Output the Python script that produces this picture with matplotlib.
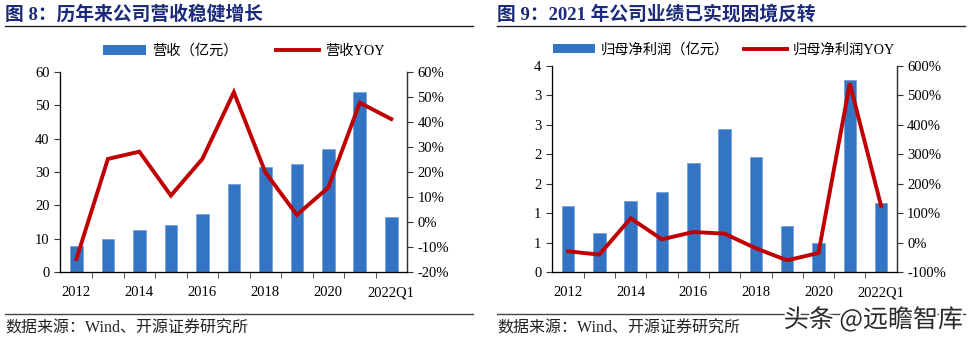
import matplotlib
matplotlib.use("Agg")
import matplotlib.pyplot as plt
import matplotlib.patheffects as pe
from matplotlib.lines import Line2D
from matplotlib.patches import Patch
from matplotlib.ticker import FuncFormatter, FixedLocator

# categories shared by both panels
years = ["2012", "2013", "2014", "2015", "2016", "2017", "2018", "2019", "2020", "2021", "2022Q1"]
shown_labels = ["2012", "2014", "2016", "2018", "2020", "2022Q1"]

# revenue (100m yuan) and YoY %
revenue = [7.9, 9.9, 12.7, 14.0, 17.4, 26.4, 31.6, 32.4, 36.8, 54.0, 16.5]
revenue_yoy = [-14.7, 25.2, 28.1, 10.6, 25.2, 51.8, 19.9, 2.9, 13.8, 47.6, 41.1]

# net profit attributable to parent (100m yuan) and YoY %
profit = [1.28, 0.77, 1.39, 1.55, 2.12, 2.77, 2.23, 0.89, 0.57, 3.73, 1.35]
profit_yoy = [-28.9, -40.0, 82.9, 11.7, 36.6, 31.0, -18.7, -59.4, -34.5, 540.0, 124.7]

BLUE = "#3474C4"
RED = "#C00000"
NAVY = "#1B2A7A"
SERIF_CJK = ["Liberation Serif", "Noto Sans CJK SC"]

plt.rcParams["font.family"] = SERIF_CJK
plt.rcParams["axes.unicode_minus"] = False

fig = plt.figure(figsize=(9.7, 3.43), dpi=100)
TICK_FS = 10.5


def panel(rect, bars, yoy, ylim, yticks, yfmt, y2lim, y2ticks):
    ax = fig.add_axes(rect)
    x = list(range(len(years)))
    ax.bar(x, bars, width=0.4, color=BLUE, edgecolor="#6E9BD6", linewidth=0.5, zorder=2)
    ax.set_xlim(-0.52, len(years) - 0.5)
    ax.set_ylim(*ylim)
    ax.yaxis.set_major_locator(FixedLocator(yticks))
    ax.yaxis.set_major_formatter(FuncFormatter(yfmt))
    ax.set_xticks(list(range(0, len(years), 2)))
    ax.set_xticklabels(shown_labels)
    ax.set_xticks([i + 0.5 for i in range(len(years) - 1)], minor=True)
    ax.tick_params(axis="x", which="major", length=0, pad=10, labelsize=TICK_FS)
    ax.tick_params(axis="x", which="minor", length=4, direction="out", color="#333333")
    ax.tick_params(axis="y", length=4, direction="out", labelsize=TICK_FS, color="#333333")
    ax.spines["top"].set_visible(False)
    for s in ("left", "right", "bottom"):
        ax.spines[s].set_color("#333333")
        ax.spines[s].set_linewidth(0.9)

    ax2 = ax.twinx()
    ax2.plot(x, yoy, color=RED, linewidth=2.8, solid_joinstyle="miter", zorder=3)
    ax2.set_ylim(*y2lim)
    ax2.set_yticks(y2ticks)
    ax2.yaxis.set_major_formatter(FuncFormatter(lambda v, p: f"{v:.0f}%"))
    ax2.tick_params(axis="y", length=4, direction="out", labelsize=TICK_FS, color="#333333")
    ax2.spines["top"].set_visible(False)
    ax2.spines["right"].set_color("#333333")
    ax2.spines["right"].set_linewidth(0.9)
    return ax, ax2


panel([0.0619, 0.2061, 0.3577, 0.585], revenue, revenue_yoy,
      (0, 60), list(range(0, 61, 10)), lambda v, p: f"{v:.0f}",
      (-20, 60), list(range(-20, 61, 10)))

profit_ticks = [4 * i / 7 for i in range(8)]
panel([0.5688, 0.2061, 0.3557, 0.6024], profit, profit_yoy,
      (0, 4), profit_ticks, lambda v, p: f"{v:.0f}",
      (-100, 600), list(range(-100, 601, 100)))

# legends
for cx, cy, name, gap in [(0.2515, 0.851, "营收", 2.7), (0.746, 0.854, "归母净利润", 1.0)]:
    handles = [Patch(facecolor=BLUE, edgecolor="none"), Line2D([], [], color=RED, linewidth=2.8)]
    fig.legend(handles, [f"{name}（亿元）", f"{name}YOY"], ncol=2, loc="center",
               bbox_to_anchor=(cx, cy), frameon=False, fontsize=10.3,
               handlelength=3.0, handleheight=0.6, handletextpad=0.4, columnspacing=gap)

# titles with rules underneath
W, H = 970, 343
for x0, x1, title in [(5, 473, "图 8：历年来公司营收稳健增长"), (497, 965, "图 9：2021 年公司业绩已实现困境反转")]:
    fig.text(x0 / W, 1 - 14 / H, title, fontsize=13.5, fontweight="bold", color=NAVY,
             va="center", ha="left")
    fig.add_artist(Line2D([x0 / W, x1 / W], [1 - 26 / H] * 2, color="#222222", linewidth=1.0))
    fig.add_artist(Line2D([x0 / W, x1 / W], [1 - 314 / H] * 2, color="#444444", linewidth=1.0))
    fig.text(x0 / W, 1 - 329 / H, "数据来源：Wind、开源证券研究所", fontsize=11.5,
             color="#222222", va="center", ha="left")

fig.text(963 / W, 1 - 320 / H, "头条 @远瞻智库", fontsize=18, color="#2a2a2a",
         family=["Noto Sans CJK SC", "DejaVu Sans"], va="center", ha="right",
         path_effects=[pe.withStroke(linewidth=3, foreground="white")])

fig.savefig("out.png", dpi=100)
